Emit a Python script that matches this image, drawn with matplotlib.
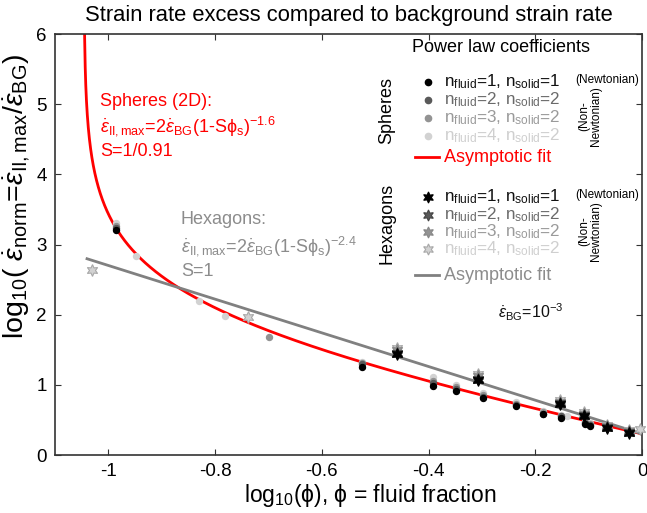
import numpy as np
import matplotlib
matplotlib.use("Agg")
from matplotlib import pyplot as plt

plt.rcParams['font.family'] = ['Liberation Sans', 'DejaVu Sans']
plt.rcParams['mathtext.fontset'] = 'custom'
plt.rcParams['mathtext.rm'] = 'Liberation Sans'
plt.rcParams['mathtext.it'] = 'Liberation Sans:italic'
plt.rcParams['mathtext.bf'] = 'Liberation Sans:bold'

# spheres (2D), one list per power law case
sph1_x = [-0.985, -0.525, -0.391, -0.348, -0.298, -0.236, -0.186, -0.151, -0.106, -0.097]
sph1_y = [3.21, 1.26, 0.99, 0.91, 0.81, 0.70, 0.58, 0.53, 0.44, 0.42]
sph2_x = [-0.985, -0.525, -0.391, -0.348, -0.298, -0.236, -0.186, -0.151, -0.106, -0.097]
sph2_y = [3.24, 1.29, 1.02, 0.94, 0.83, 0.71, 0.59, 0.55, 0.45, 0.43]
sph3_x = [-0.985, -0.699, -0.525, -0.391, -0.348, -0.298, -0.236, -0.186, -0.151, -0.106, -0.097]
sph3_y = [3.27, 1.68, 1.31, 1.06, 0.97, 0.85, 0.73, 0.61, 0.56, 0.47, 0.44]
sph4_x = [-0.985, -0.949, -0.830, -0.781, -0.525, -0.391, -0.348, -0.298, -0.236, -0.186, -0.151, -0.140, -0.106, -0.097]
sph4_y = [3.30, 2.84, 2.20, 1.98, 1.33, 1.11, 1.00, 0.88, 0.75, 0.62, 0.57, 0.55, 0.48, 0.45]

# hexagons
hex1_x = [-0.460, -0.307, -0.154, -0.109, -0.066, -0.024]
hex1_y = [1.44, 1.07, 0.72, 0.55, 0.39, 0.32]
hex2_x = [-0.460, -0.307, -0.154, -0.109, -0.066, -0.024]
hex2_y = [1.46, 1.09, 0.74, 0.57, 0.40, 0.33]
hex3_x = [-0.460, -0.307, -0.154, -0.109, -0.066, -0.024]
hex3_y = [1.49, 1.13, 0.76, 0.59, 0.41, 0.34]
hex4_x = [-1.030, -0.738, -0.460, -0.307, -0.154, -0.109, -0.066, -0.024, -0.003]
hex4_y = [2.63, 1.97, 1.53, 1.16, 0.79, 0.61, 0.43, 0.35, 0.37]

# asymptotic fits: eps = 2*eps_bg*(1 - S*phi_s)^p
S_sph, p_sph = 1 / 0.91, -1.6
S_hex, p_hex = 1.0, -2.4

xticks = [-1, -0.8, -0.6, -0.4, -0.2, 0]
xticklabels = ['-1', '-0.8', '-0.6', '-0.4', '-0.2', '0']
yticks = [0, 1, 2, 3, 4, 5, 6]

case_cols = ['#000000', '#595959', '#939393', '#d2d2d2']
text_cols = ['#111111', '#6a6a6a', '#9a9a9a', '#cfcfcf']
star_edge = ['#000000', '#444444', '#888888', '#a8a8a8']

W, H = 647, 513
fig = plt.figure(figsize=(W / 100, H / 100), dpi=100)
L, R, T, B = 55, 642, 34, 455
ax = fig.add_axes([L / W, 1 - B / H, (R - L) / W, (B - T) / H])


def fit(logphi, S, p):
    phi_s = 1 - 10 ** logphi
    return np.log10(2 * (1 - S * phi_s) ** p)


# fit curves
x0 = np.log10(1 - 1 / S_sph) + 1e-5
xs = np.linspace(x0, 0, 4000)
ax.plot(xs, fit(xs, S_sph, p_sph), color='#ff0000', lw=2, zorder=2)
xh = np.linspace(-1.04, 0, 100)
ax.plot(xh, fit(xh, S_hex, p_hex), color='#808080', lw=2, zorder=2)

sph = [(sph4_x, sph4_y), (sph3_x, sph3_y), (sph2_x, sph2_y), (sph1_x, sph1_y)]
hexs = [(hex4_x, hex4_y), (hex3_x, hex3_y), (hex2_x, hex2_y), (hex1_x, hex1_y)]
for i, ((sx, sy), (hx, hy)) in enumerate(zip(sph, hexs)):
    k = 3 - i
    ax.plot(hx, hy, ls='none', marker=(6, 1, 0), ms=8.5, color=case_cols[k],
            mec=star_edge[k], mew=0.8, zorder=3 + i, clip_on=False)
    ax.plot(sx, sy, ls='none', marker='o', ms=4.3, color=case_cols[k],
            mec=case_cols[k], zorder=3 + i)

ax.set_xlim(-1.1, 0)
ax.set_ylim(0, 6)
ax.set_xticks(xticks)
ax.set_xticklabels(xticklabels)
ax.set_yticks(yticks)
ax.tick_params(direction='in', top=True, right=True, labelsize=13.5, length=4,
               color='#333333', pad=6)
for s in ax.spines.values():
    s.set_color('#333333')
    s.set_linewidth(1.2)

ax.set_title('Strain rate excess compared to background strain rate', fontsize=15.8, pad=9)
ax.set_xlabel('log$_{10}$(ϕ), ϕ = fluid fraction', fontsize=16.5)
ax.xaxis.set_label_coords((370 - L) / (R - L), -(482 - B) / (B - T))
ax.set_ylabel(r'log$_{10}$( $\dot{\varepsilon}_{\mathrm{norm}}$=$\dot{\varepsilon}_{\mathrm{II,max}}$/$\dot{\varepsilon}_{\mathrm{BG}}$)',
              fontsize=20.5)
ax.yaxis.set_label_coords((33 - L) / (R - L), (B - 196) / (B - T))


def P(px, py):
    return (px - L) / (R - L), (B - py) / (B - T)


def txt(px, py, s, **kw):
    ax.text(*P(px, py), s, transform=ax.transAxes, **kw)


# fit annotations
txt(100, 102, 'Spheres (2D):', color='#ff0000', fontsize=13, va='center')
txt(100, 126, r'$\dot{\varepsilon}_{\mathrm{II,max}}$=2$\dot{\varepsilon}_{\mathrm{BG}}$(1-Sϕ$_{\mathrm{s}}$)$^{-1.6}$',
    color='#ff0000', fontsize=13, va='center')
txt(100, 152, 'S=1/0.91', color='#ff0000', fontsize=13, va='center')
txt(181, 220, 'Hexagons:', color='#8c8c8c', fontsize=13, va='center')
txt(181, 246, r'$\dot{\varepsilon}_{\mathrm{II,max}}$=2$\dot{\varepsilon}_{\mathrm{BG}}$(1-Sϕ$_{\mathrm{s}}$)$^{-2.4}$',
    color='#8c8c8c', fontsize=13, va='center')
txt(181, 271, 'S=1', color='#8c8c8c', fontsize=13, va='center')
txt(498, 312, r'$\dot{\varepsilon}_{\mathrm{BG}}$=10$^{-3}$', color='#111111', fontsize=11.5, va='center')

# legend block
txt(412, 48, 'Power law coefficients', fontsize=13, va='center')
sph_rows = [82, 100, 118, 136]
hex_rows = [197, 215, 232, 249]
for k in range(4):
    n = k + 1
    ns = 1 if k == 0 else 2
    lab = r'n$_{\mathrm{fluid}}$=%d, n$_{\mathrm{solid}}$=%d' % (n, ns)
    ax.plot(*P(428, sph_rows[k]), marker='o', ms=4.5, color=case_cols[k], mec=case_cols[k],
            transform=ax.transAxes, clip_on=False)
    txt(444, sph_rows[k], lab, color=text_cols[k], fontsize=12.3, va='center')
    ax.plot(*P(428, hex_rows[k]), marker=(6, 1, 0), ms=8, color=case_cols[k],
            mec=star_edge[k], mew=0.8, transform=ax.transAxes, clip_on=False)
    txt(444, hex_rows[k], lab, color=text_cols[k], fontsize=12.3, va='center')

ax.plot(*zip(P(415, 157), P(439, 157)), color='#ff0000', lw=2, transform=ax.transAxes)
txt(444, 157, 'Asymptotic fit', color='#ff0000', fontsize=13, va='center')
ax.plot(*zip(P(415, 275), P(439, 275)), color='#808080', lw=2, transform=ax.transAxes)
txt(444, 275, 'Asymptotic fit', color='#8c8c8c', fontsize=13, va='center')

txt(387, 110, 'Spheres', rotation=90, fontsize=13, ha='center', va='center')
txt(387, 223, 'Hexagons', rotation=90, fontsize=13, ha='center', va='center')
for y0, yn in [(80, 116), (195, 231)]:
    txt(607, y0, '(Newtonian)', fontsize=8.5, ha='center', va='center')
    txt(590, yn, '(Non-\nNewtonian)', fontsize=8.5, rotation=90, ha='center', va='center',
        linespacing=0.95)

fig.savefig('out.png', dpi=100)
